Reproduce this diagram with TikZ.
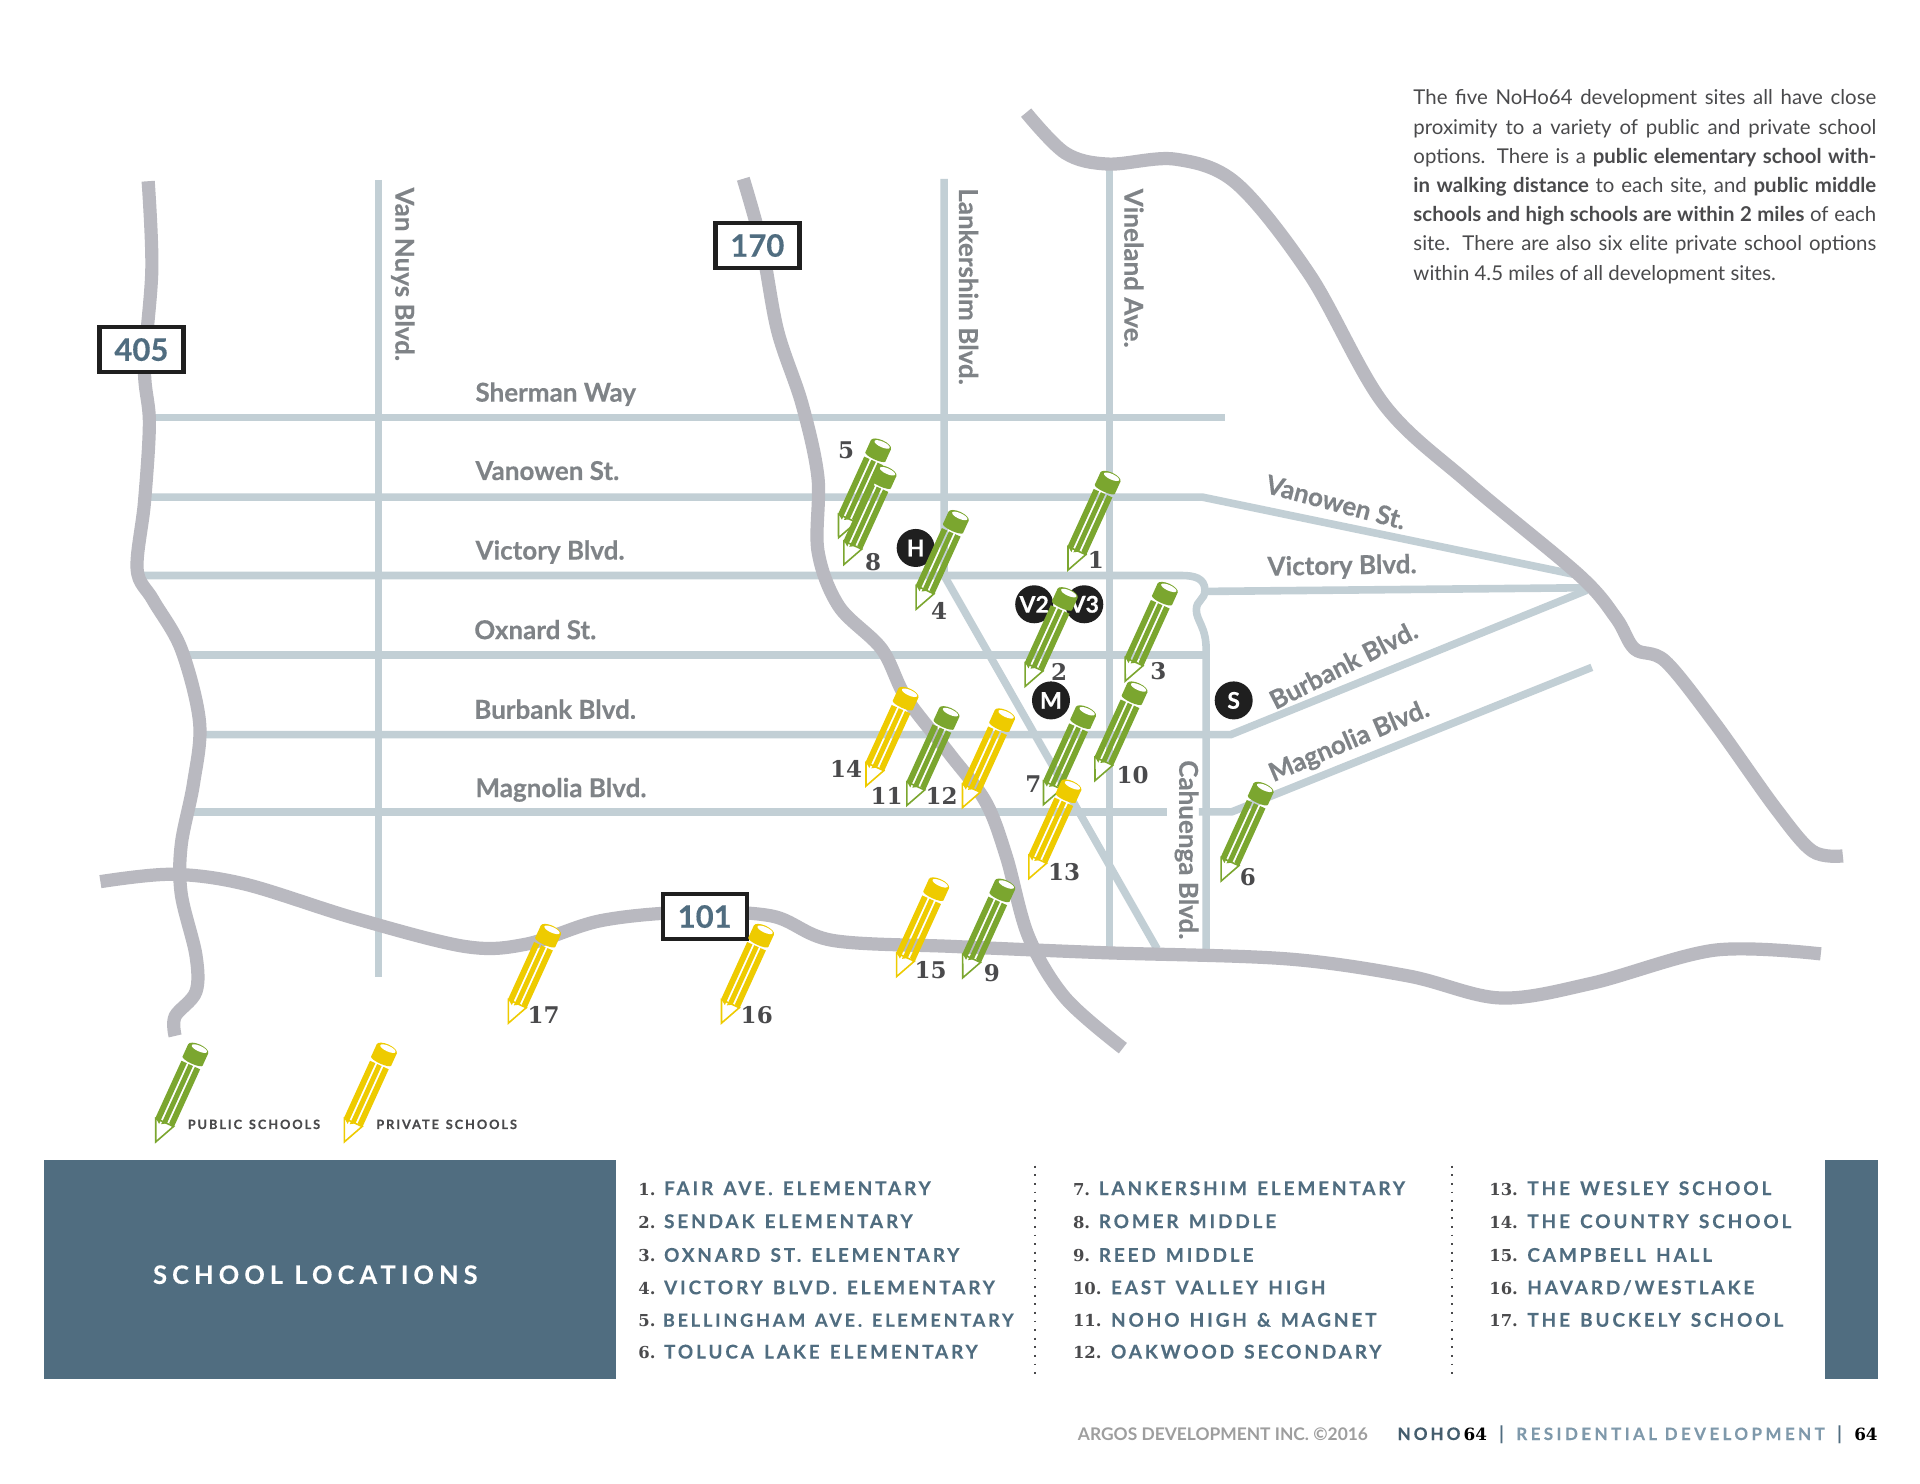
\documentclass[tikz,border=0pt]{standalone}
\usepackage{fontspec}
\setmainfont{Lato}
\newfontfamily\numfont{DejaVu Serif}
\newfontfamily\heavyfont[BoldFeatures={FakeBold=0.3}]{Lato}
\newfontfamily\trackfont[LetterSpace=15,WordSpace=1.35,BoldFeatures={FakeBold=0.2}]{Lato}
\newfontfamily\widefont[LetterSpace=20,BoldFeatures={FakeBold=0.2}]{Lato}
\definecolor{street}{HTML}{C2CFD5}
\definecolor{freeway}{HTML}{B9B9C0}
\definecolor{slate}{HTML}{506D80}
\definecolor{pgreen}{HTML}{7BA62F}
\definecolor{pyellow}{HTML}{EECB00}
\definecolor{txtgray}{HTML}{4A4A4C}
\definecolor{lblgray}{HTML}{7F8387}
\definecolor{softblue}{HTML}{7F99AB}
\newcommand{\fs}[1]{\fontsize{#1}{#1}\selectfont}
\tikzset{
  x=0.61224pt,y=-0.61224pt,
  streetline/.style={draw=street,line width=3.8pt,line join=round},
  freewayline/.style={draw=freeway,line width=6.6pt,line join=round},
  routebox/.style={draw=black!88,line width=2.2pt,fill=white,minimum width=42pt,minimum height=22.5pt,inner sep=0pt,text=slate,font=\heavyfont\fs{15.5}\bfseries},
  streetlbl/.style={text=lblgray,font=\heavyfont\fs{13}\bfseries,inner sep=0pt},
  site/.style={circle,fill=black!88,minimum size=19pt,inner sep=0pt,text=white,font=\heavyfont\fs{11.5}\bfseries},
  pnum/.style={text=txtgray,font=\numfont\fs{11.5}\bfseries,inner sep=0pt},
  listnum/.style={anchor=base west,text=txtgray,font=\numfont\fs{8.2}\bfseries,inner sep=0pt},
  listtxt/.style={anchor=base west,text=slate,font=\trackfont\fs{9.5}\bfseries,inner sep=0pt},
  legendtxt/.style={anchor=base west,text=txtgray,font=\trackfont\fs{6.4}\bfseries,inner sep=0pt},
  sepline/.style={draw=txtgray,line width=0.9pt,dash pattern=on 0.9pt off 3.4pt},
  pics/pencil/.style={code={
    % wooden tip
    \filldraw[fill=white,draw=#1,line width=0.8pt,line join=miter] (-8,-18) -- (0,-0.5) -- (8,-18) -- cycle;
    % stripes of the body
    \fill[#1] (-8.4,-18.5) -- (-8.4,-69.5) -- (-3.6,-69.5) -- (-3.6,-15) -- cycle;
    \fill[#1] (-2.0,-15.5) -- (-2.0,-69.5) -- (2.0,-69.5) -- (2.0,-18) -- cycle;
    \fill[#1] (3.6,-19) -- (3.6,-69.5) -- (8.4,-69.5) -- (8.4,-17.5) -- cycle;
    % cap
    \fill[#1] (0,-73) ellipse[x radius=9,y radius=2.2];
    \fill[#1] (-9,-73) rectangle (9,-84);
    \fill[#1] (0,-84) ellipse[x radius=9,y radius=3.8];
    \fill[white] (0.8,-84.6) ellipse[x radius=6.8,y radius=2.3];
  }},
}
\begin{document}
\begin{tikzpicture}
\path[use as bounding box,fill=white] (0,0) rectangle (1568,1211.93);
% ---- streets
\draw[streetline] (309,147) -- (309,798);
\draw[streetline] (771,146) -- (771,470) -- (945,775);
\draw[streetline] (906,138) -- (906,775);
\draw[streetline] (120,341) -- (1000,341);
\draw[streetline] (118,406) -- (982,406) -- (1290,470);
\draw[streetline] (115,470) -- (965,470) .. controls (975,470) and (984,472) .. (984,482) .. controls (984,490) and (977,490) .. (977,498) .. controls (977,507) and (985,512) .. (985,530) -- (985,775);
\draw[streetline] (984,483) -- (1296,480);
\draw[streetline] (150,535) -- (985,535);
\draw[streetline] (165,600) -- (1005,600) -- (1296,482);
\draw[streetline] (155,663) -- (953,663);
\draw[streetline] (979,663) -- (1006,663) -- (1300,545);
% ---- freeways
\draw[freewayline] plot[smooth,tension=.55] coordinates {(121,148) (124,220) (118,300) (122,345) (118,410) (112,465) (125,490) (148,530) (163,590) (158,640) (148,690) (148,730) (160,780) (160,810) (143,830) (143,846)};
\draw[freewayline] plot[smooth,tension=.55] coordinates {(607,146) (622,200) (635,270) (655,330) (668,390) (668,450) (685,495) (720,530) (740,570) (775,615) (805,655) (822,700) (840,765) (870,815) (917,856)};
\draw[freewayline] plot[smooth,tension=.55] coordinates {(82,720) (140,714) (200,722) (290,750) (380,773) (430,771) (490,752) (560,745) (630,748) (680,768) (780,773) (900,778) (1050,783) (1150,797) (1225,815) (1300,803) (1400,776) (1487,779)};
\draw[freewayline] plot[smooth,tension=.55] coordinates {(838,92) (870,125) (905,134) (960,130) (1010,150) (1070,225) (1130,330) (1200,395) (1290,470) (1320,505) (1335,530) (1360,540) (1400,590) (1450,660) (1480,695) (1505,699)};
% ---- route boxes
\node[routebox] (r405) at (115.5,285.5) {405};
\node[routebox] (r170) at (618.5,200.5) {170};
\node[routebox] (r101) at (575.5,748.5) {101};
% ---- street labels
\node[streetlbl,rotate=-90] (vannuys) at (329,224) {Van Nuys Blvd.};
\node[streetlbl,rotate=-90] (lank) at (791,234) {Lankershim Blvd.};
\node[streetlbl,rotate=-90] (vine) at (926,219) {Vineland Ave.};
\node[streetlbl,rotate=-90] (cahu) at (969,694) {Cahuenga Blvd.};
\node[streetlbl,anchor=base west] (sherman) at (388,328) {Sherman Way};
\node[streetlbl,anchor=base west] (vanow) at (388,392) {Vanowen St.};
\node[streetlbl,anchor=base west] (vict) at (388,457) {Victory Blvd.};
\node[streetlbl,anchor=base west] (oxn) at (387,522) {Oxnard St.};
\node[streetlbl,anchor=base west] (burb) at (387,587) {Burbank Blvd.};
\node[streetlbl,anchor=base west] (magn) at (388,651) {Magnolia Blvd.};
\node[streetlbl,rotate=-15] (vanow2) at (1091,410) {Vanowen St.};
\node[streetlbl,rotate=1] (vict2) at (1096,463) {Victory Blvd.};
\node[streetlbl,rotate=27] (burb2) at (1097,543) {Burbank Blvd.};
\node[streetlbl,rotate=23] (magn2) at (1102,606) {Magnolia Blvd.};
% ---- site markers
\node[site] (H) at (747.8,447.5) {H};
\node[site] (V2) at (844.6,493.5) {V2};
\node[site] (V3) at (885.5,493.5) {V3};
\node[site] (M) at (858.3,572) {M};
\node[site] (S) at (1007.5,572) {S};
% ---- pencils
\pic[rotate=-24.5] at (684.6,439.6) {pencil=pgreen};
\pic[rotate=-24.5] at (689,461.5) {pencil=pgreen};
\pic[rotate=-24.5] at (748,498) {pencil=pgreen};
\pic[rotate=-24.5] at (872,466) {pencil=pgreen};
\pic[rotate=-24.5] at (837,561) {pencil=pgreen};
\pic[rotate=-24.5] at (918.7,556.7) {pencil=pgreen};
\pic[rotate=-24.5] at (894,638) {pencil=pgreen};
\pic[rotate=-24.5] at (852,657.5) {pencil=pgreen};
\pic[rotate=-24.5] at (707,642.4) {pencil=pyellow};
\pic[rotate=-24.5] at (740.4,658.2) {pencil=pgreen};
\pic[rotate=-24.5] at (785.8,660) {pencil=pyellow};
\pic[rotate=-24.5] at (840,718) {pencil=pyellow};
\pic[rotate=-24.5] at (997,720) {pencil=pgreen};
\pic[rotate=-24.5] at (732,798) {pencil=pyellow};
\pic[rotate=-24.5] at (786,799) {pencil=pgreen};
\pic[rotate=-24.5] at (415,836) {pencil=pyellow};
\pic[rotate=-24.5] at (589,836) {pencil=pyellow};
\pic[rotate=-24.5] at (127,933) {pencil=pgreen};
\pic[rotate=-24.5] at (281,933) {pencil=pyellow};
% ---- pencil numbers
\node[pnum] (p1) at (895,457) {1};
\node[pnum] (p2) at (865,549) {2};
\node[pnum] (p3) at (946,548) {3};
\node[pnum] (p4) at (767,499) {4};
\node[pnum] (p5) at (691,368) {5};
\node[pnum] (p6) at (1019,716) {6};
\node[pnum] (p7) at (844,640) {7};
\node[pnum] (p8) at (713,459) {8};
\node[pnum] (p9) at (810,795) {9};
\node[pnum] (p10) at (925,633) {10};
\node[pnum] (p11) at (724,650) {11};
\node[pnum] (p12) at (769,650) {12};
\node[pnum] (p13) at (869,712) {13};
\node[pnum] (p14) at (691,628) {14};
\node[pnum] (p15) at (760,792) {15};
\node[pnum] (p16) at (618,829) {16};
\node[pnum] (p17) at (444,829) {17};
% ---- legend
\node[legendtxt] (lg1) at (153,922) {PUBLIC SCHOOLS};
\node[legendtxt] (lg2) at (307,922) {PRIVATE SCHOOLS};
% ---- paragraph
\node[anchor=north west,inner sep=0pt,align=left,text=txtgray,font=\fs{10.2}] (para) at (1154,73) {%
\makebox[231.4pt][s]{The five NoHo64 development sites all have close}\\[4.4pt]
\makebox[231.4pt][s]{proximity to a variety of public and private school}\\[4.4pt]
\makebox[231.4pt][s]{options. There is a \textbf{public elementary school with-}}\\[4.4pt]
\makebox[231.4pt][s]{\textbf{in walking distance} to each site, and \textbf{public middle}}\\[4.4pt]
\makebox[231.4pt][s]{\textbf{schools and high schools are within 2 miles} of each}\\[4.4pt]
\makebox[231.4pt][s]{site. There are also six elite private school options}\\[4.4pt]
within 4.5 miles of all development sites.};
% ---- bottom band
\fill[slate] (36,947) rectangle (503,1126);
\fill[slate] (1490,947) rectangle (1534,1126);
\node[text=white,font=\widefont\fs{12.7}\bfseries,inner sep=0pt] (title) at (257.5,1041) {SCHOOL LOCATIONS};
\draw[sepline] (845,952) -- (845,1122);
\draw[sepline] (1186,952) -- (1186,1122);
% ---- school list
\node[listnum] (n1) at (521,976) {1.};  \node[listtxt] (t1) at (542,976) {FAIR AVE. ELEMENTARY};
\node[listnum] (n2) at (521,1003) {2.}; \node[listtxt] (t2) at (542,1003) {SENDAK ELEMENTARY};
\node[listnum] (n3) at (521,1030.5) {3.}; \node[listtxt] (t3) at (542,1030.5) {OXNARD ST. ELEMENTARY};
\node[listnum] (n4) at (521,1057) {4.}; \node[listtxt] (t4) at (542,1057) {VICTORY BLVD. ELEMENTARY};
\node[listnum] (n5) at (521,1083.5) {5.}; \node[listtxt,font=\trackfont\fs{9.1}\bfseries] (t5) at (541,1083.5) {BELLINGHAM AVE. ELEMENTARY};
\node[listnum] (n6) at (521,1109.5) {6.}; \node[listtxt] (t6) at (542,1109.5) {TOLUCA LAKE ELEMENTARY};
\node[listnum] (n7) at (876,976) {7.};  \node[listtxt] (t7) at (897,976) {LANKERSHIM ELEMENTARY};
\node[listnum] (n8) at (876,1003) {8.}; \node[listtxt] (t8) at (897,1003) {ROMER MIDDLE};
\node[listnum] (n9) at (876,1030.5) {9.}; \node[listtxt] (t9) at (897,1030.5) {REED MIDDLE};
\node[listnum] (n10) at (876,1057) {10.}; \node[listtxt] (t10) at (907,1057) {EAST VALLEY HIGH};
\node[listnum] (n11) at (876,1083.5) {11.}; \node[listtxt] (t11) at (907,1083.5) {NOHO HIGH \& MAGNET};
\node[listnum] (n12) at (876,1109.5) {12.}; \node[listtxt] (t12) at (907,1109.5) {OAKWOOD SECONDARY};
\node[listnum] (n13) at (1216,976) {13.};  \node[listtxt] (t13) at (1247,976) {THE WESLEY SCHOOL};
\node[listnum] (n14) at (1216,1003) {14.}; \node[listtxt] (t14) at (1247,1003) {THE COUNTRY SCHOOL};
\node[listnum] (n15) at (1216,1030.5) {15.}; \node[listtxt] (t15) at (1247,1030.5) {CAMPBELL HALL};
\node[listnum] (n16) at (1216,1057) {16.}; \node[listtxt] (t16) at (1247,1057) {HAVARD/WESTLAKE};
\node[listnum] (n17) at (1216,1083.5) {17.}; \node[listtxt] (t17) at (1247,1083.5) {THE BUCKELY SCHOOL};
% ---- footer
\node[anchor=base west,inner sep=0pt,text=black!38,font=\fs{8.7}\bfseries] (f1) at (880,1176) {ARGOS DEVELOPMENT INC. ©2016};
\node[anchor=base west,inner sep=0pt,text=slate!85!black,font=\widefont\fs{8.6}\bfseries] (f2) at (1141,1176) {N\,O\,H\,O};
\node[anchor=base west,inner sep=0pt,text=black,font=\numfont\fs{8.4}\bfseries] (f3) at (1195,1176) {64};
\node[anchor=base west,inner sep=0pt,text=slate,font=\fs{9.5}\bfseries] (f4) at (1224,1176.5) {|};
\node[anchor=base west,inner sep=0pt,text=softblue,font=\widefont\fs{8.5}\bfseries] (f5) at (1238,1176) {RESIDENTIAL DEVELOPMENT};
\node[anchor=base west,inner sep=0pt,text=slate,font=\fs{9.5}\bfseries] (f6) at (1500,1176.5) {|};
\node[anchor=base west,inner sep=0pt,text=black,font=\numfont\fs{8.4}\bfseries] (f7) at (1514,1176) {64};
\end{tikzpicture}
\end{document}
